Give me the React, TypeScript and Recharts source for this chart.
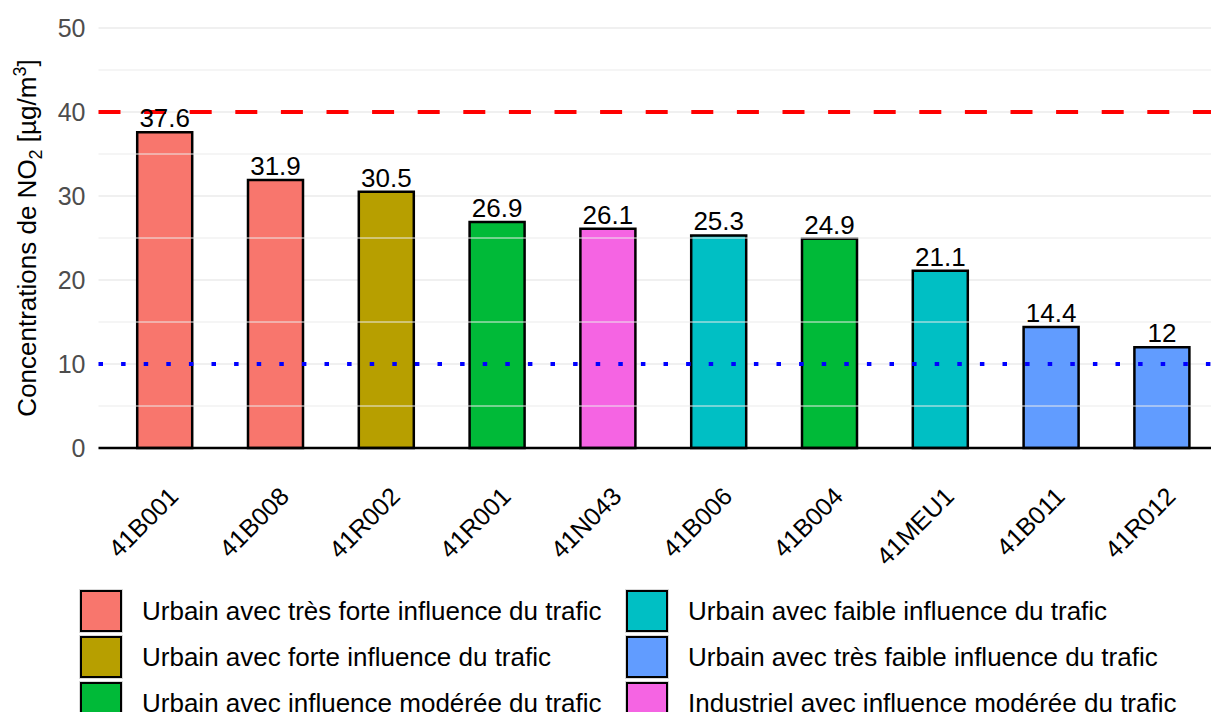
import React from 'react';
import {
  BarChart,
  Bar,
  XAxis,
  YAxis,
  CartesianGrid,
  ReferenceLine,
  LabelList,
  Cell,
} from 'recharts';

// stations, sorted by concentration
const stations = ['41B001', '41B008', '41R002', '41R001', '41N043', '41B006', '41B004', '41MEU1', '41B011', '41R012'];
const no2Values = [37.6, 31.9, 30.5, 26.9, 26.1, 25.3, 24.9, 21.1, 14.4, 12];
const stationTypes = [0, 0, 1, 2, 5, 3, 2, 3, 4, 4];

const typeLabels = [
  'Urbain avec très forte influence du trafic',
  'Urbain avec forte influence du trafic',
  'Urbain avec influence modérée du trafic',
  'Urbain avec faible influence du trafic',
  'Urbain avec très faible influence du trafic',
  'Industriel avec influence modérée du trafic',
];
const typeColors = ['#F8766D', '#B79F00', '#00BA38', '#00BFC4', '#619CFF', '#F564E3'];

const yTicks = [0, 10, 20, 30, 40, 50];
const minorGrid = [5, 15, 25, 35, 45];
const limitValue = 40;
const guideValue = 10;

const FONT = '"Liberation Sans", Arial, Helvetica, sans-serif';

const data = stations.map((name, i) => ({ name, value: no2Values[i], type: stationTypes[i] }));

const XTick = (props: any) => {
  const { x, y, payload } = props;
  const ax = x + 15;
  const ay = y + 42;
  return (
    <text
      x={ax}
      y={ay}
      textAnchor="end"
      transform={`rotate(-45, ${ax}, ${ay})`}
      fill="#000"
      fontSize={25}
      fontFamily={FONT}
    >
      {payload.value}
    </text>
  );
};

const YTitle = (props: any) => {
  const vb = props.viewBox || {};
  const cy = vb.y + vb.height / 2;
  const cx = 36;
  return (
    <text
      x={cx}
      y={cy}
      transform={`rotate(-90, ${cx}, ${cy})`}
      textAnchor="middle"
      fill="#000"
      fontSize={26}
      fontFamily={FONT}
    >
      Concentrations de NO
      <tspan fontSize={18} dy={6}>2</tspan>
      <tspan dy={-6}> [µg/m</tspan>
      <tspan fontSize={18} dy={-10}>3</tspan>
      <tspan dy={10}>]</tspan>
    </text>
  );
};

const legendOrder = [0, 3, 1, 4, 2, 5];

export default function App() {
  return (
    <div style={{ margin: -8, width: 1219, height: 720, overflow: 'hidden', position: 'relative', background: '#fff', fontFamily: FONT }}>
      <BarChart
        width={1240}
        height={600}
        data={data}
        margin={{ top: 28, right: 11.5, left: 0, bottom: 0 }}
        barCategoryGap="25%"
      >
        <CartesianGrid vertical={false} stroke="#EBEBEB" strokeWidth={1.3} />
        {minorGrid.map((v) => (
          <ReferenceLine key={v} y={v} stroke="#EBEBEB" strokeWidth={1} />
        ))}
        <XAxis
          dataKey="name"
          height={152}
          axisLine={false}
          tickLine={false}
          interval={0}
          padding={{ left: 11, right: 11 }}
          tick={<XTick />}
        />
        <YAxis
          width={98.5}
          domain={[0, 50]}
          ticks={yTicks}
          axisLine={false}
          tickLine={false}
          tickMargin={7}
          tick={{ fill: '#4D4D4D', fontSize: 25, fontFamily: FONT }}
          label={{ content: (p: any) => <YTitle {...p} /> }}
        />
        <Bar dataKey="value" stroke="#000" strokeWidth={2.5} isAnimationActive={false}>
          {data.map((d, i) => (
            <Cell key={`cell-${i}`} fill={typeColors[d.type]} />
          ))}
          <LabelList dataKey="value" position="top" offset={5} fill="#000" fontSize={26} fontFamily={FONT} />
        </Bar>
        <ReferenceLine y={0} stroke="#000" strokeWidth={2.5} />
        <ReferenceLine y={limitValue} stroke="#FF0000" strokeWidth={4} strokeDasharray="22 23.6" />
        <ReferenceLine y={guideValue} stroke="#0000FF" strokeWidth={4} strokeDasharray="4.5 18.1" />
      </BarChart>
      <div style={{ position: 'absolute', left: 79, top: 588, display: 'grid', gridTemplateColumns: '546px 560px', gridAutoRows: '46px' }}>
        {legendOrder.map((t) => (
          <div key={t} style={{ display: 'flex', alignItems: 'center', height: 46 }}>
            <div
              style={{
                width: 44,
                height: 44,
                boxSizing: 'border-box',
                border: '1px solid #D9D9D9',
                display: 'flex',
              }}
            >
              <div style={{ flex: 1, background: typeColors[t], border: '2.5px solid #000' }} />
            </div>
            <span style={{ marginLeft: 19, fontSize: 26, color: '#000', whiteSpace: 'nowrap' }}>{typeLabels[t]}</span>
          </div>
        ))}
      </div>
    </div>
  );
}
